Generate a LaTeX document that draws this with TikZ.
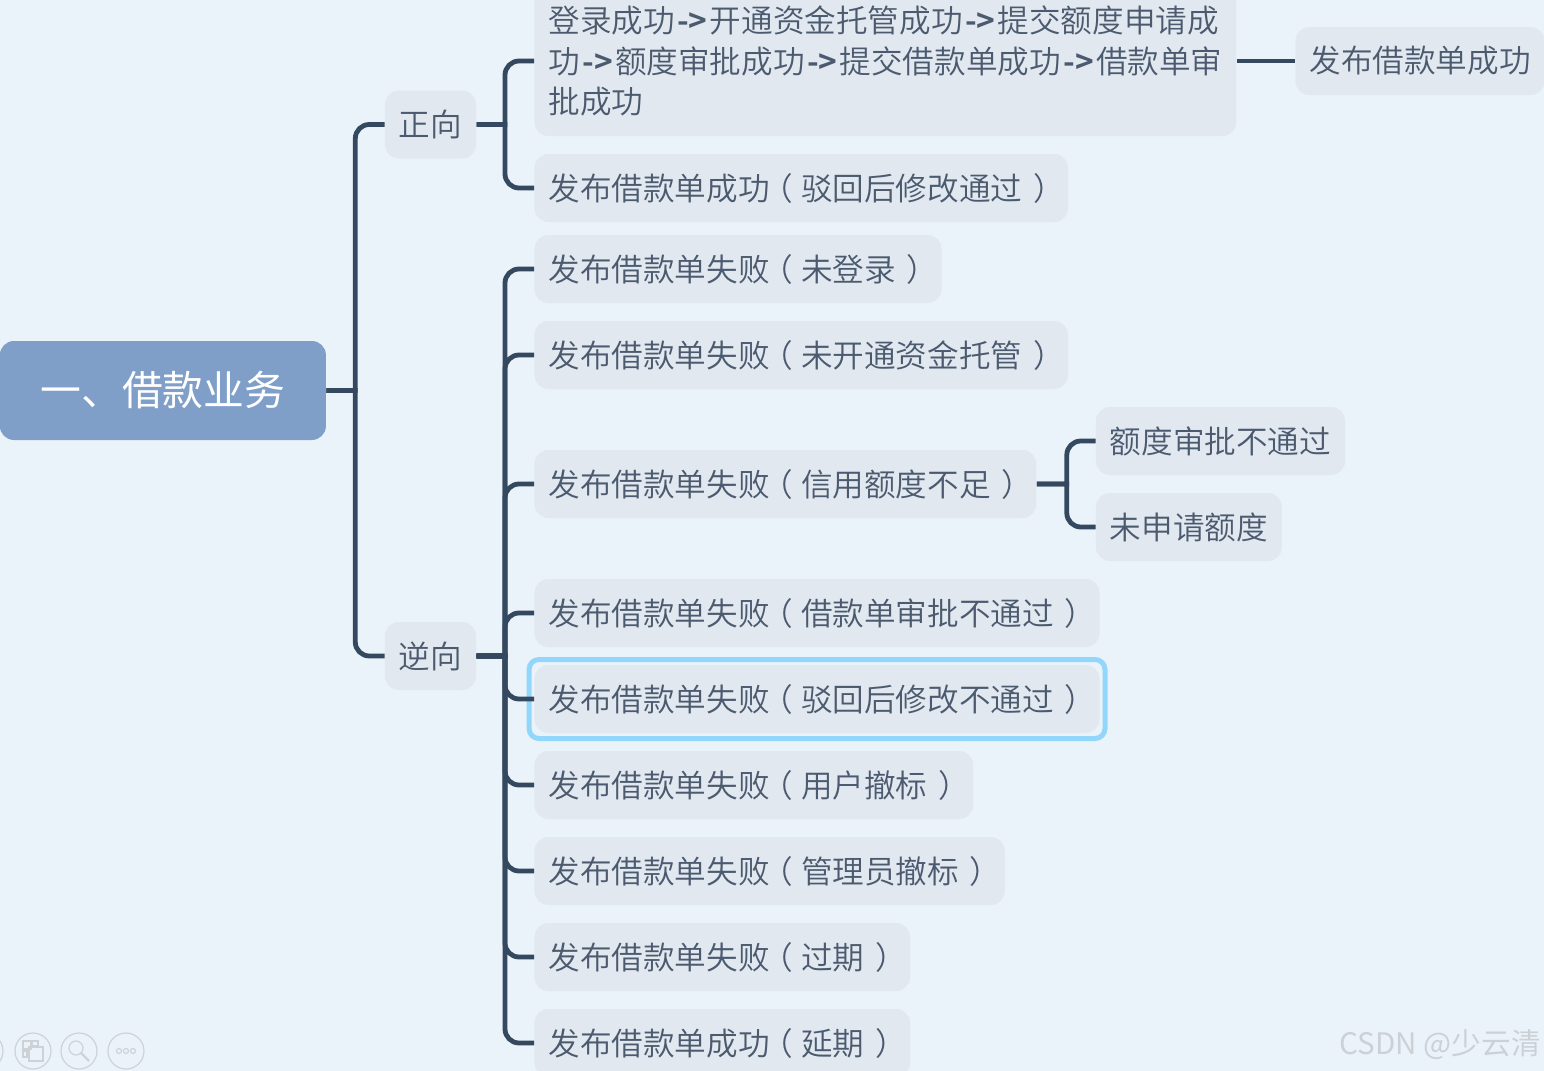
\documentclass[tikz,border=0pt]{standalone}
\usepackage{fontspec}
\setmainfont{Noto Sans CJK SC DemiLight}[BoldFont={Noto Sans CJK SC Bold}]
\newfontfamily\plainfont{Noto Sans CJK SC}
\definecolor{mapBg}{HTML}{EBF3FA}
\definecolor{mapRoot}{HTML}{7F9FC9}
\definecolor{mapBox}{HTML}{E1E8F0}
\definecolor{mapInk}{HTML}{4B5A6E}
\definecolor{mapLine}{HTML}{34495F}
\definecolor{mapMark}{HTML}{92D6FB}
\definecolor{mapIcon}{HTML}{CDD2D7}
\definecolor{mapWater}{HTML}{CCD1D6}
\newcommand{\flowto}{\kern.075em{\bfseries->}\kern.075em}
\newcommand{\openp}{\kern-.25em（\kern.25em}
\newcommand{\closep}{\kern.34em）\kern-.34em}
\tikzset{
    topic/.style={fill=mapBox,text=mapInk,rounded corners=7pt,anchor=west,align=left,
        inner xsep=7pt,inner ysep=0pt,minimum height=34pt,
        font=\fontsize{15.8}{20.25}\selectfont},
    rootbox/.style={fill=mapRoot,text=white,rounded corners=7pt,anchor=west,
        minimum width=163pt,minimum height=49.5pt,inner sep=0pt,
        font=\plainfont\fontsize{20.4}{24}\selectfont},
    link/.style={to path={-- ++(#1,0) [rounded corners=7pt] |- (\tikztotarget)}},
    linkline/.style={mapLine,line width=2.4pt},
    iconline/.style={mapIcon,line width=0.6pt}
}
\begin{document}
\begin{tikzpicture}[x=0.5pt,y=-0.5pt]
    \useasboundingbox[fill=mapBg] (0,0) rectangle (1544,1071);
    % central topic and the two main branches
    \node[rootbox] (root) at (-0.5,390.5) {\raisebox{2pt}{一、借款业务}};
    \node[topic] (forward) at (384.5,124.5) {正向};
    \node[topic] (reverse) at (384.5,656) {逆向};
    % forward branch
    \node[topic,minimum height=75pt] (flow) at (534,61) {登录成功\flowto 开通资金托管成功\flowto 提交额度申请成\\功\flowto 额度审批成功\flowto 提交借款单成功\flowto 借款单审\\批成功};
    \node[topic] (okpub) at (1295,61) {发布借款单成功};
    \node[topic] (okfix) at (534,188) {发布借款单成功\openp 驳回后修改通过\closep};
    % reverse branch
    \node[topic] (nologin) at (534,269) {发布借款单失败\openp 未登录\closep};
    \node[topic] (nofund) at (534,355) {发布借款单失败\openp 未开通资金托管\closep};
    \node[topic] (nocredit) at (534,484) {发布借款单失败\openp 信用额度不足\closep};
    \node[topic] (denied) at (1095.5,441) {额度审批不通过};
    \node[topic] (noapply) at (1095.5,527) {未申请额度};
    \node[topic] (rejected) at (534,613) {发布借款单失败\openp 借款单审批不通过\closep};
    % selection frame of the picked topic
    \node[draw=mapMark,line width=2.5pt,rounded corners=5pt,inner sep=0pt,minimum width=288pt,minimum height=39.5pt] (frame) at (817,699) {};
    \node[topic] (fixfail) at (534,699) {发布借款单失败\openp 驳回后修改不通过\closep};
    \node[topic] (usercancel) at (534,785) {发布借款单失败\openp 用户撤标\closep};
    \node[topic] (admincancel) at (534,871) {发布借款单失败\openp 管理员撤标\closep};
    \node[topic] (expired) at (534,957) {发布借款单失败\openp 过期\closep};
    \node[topic] (extended) at (534,1043) {发布借款单成功\openp 延期\closep};
    % connectors
    \draw[linkline] (root.east) to[link=29] (forward.west);
    \draw[linkline] (root.east) to[link=29] (reverse.west);
    \draw[linkline] (forward.east) to[link=28.5] (flow.west);
    \draw[linkline] (forward.east) to[link=28.5] (okfix.west);
    \draw[linkline] (flow.east) -- (okpub.west);
    \draw[linkline] (reverse.east) to[link=28.5] (nologin.west);
    \draw[linkline] (reverse.east) to[link=28.5] (nofund.west);
    \draw[linkline] (reverse.east) to[link=28.5] (nocredit.west);
    \draw[linkline] (reverse.east) to[link=28.5] (rejected.west);
    \draw[linkline] (reverse.east) to[link=28.5] (fixfail.west);
    \draw[linkline] (reverse.east) to[link=28.5] (usercancel.west);
    \draw[linkline] (reverse.east) to[link=28.5] (admincancel.west);
    \draw[linkline] (reverse.east) to[link=28.5] (expired.west);
    \draw[linkline] (reverse.east) to[link=28.5] (extended.west);
    \draw[linkline] (nocredit.east) to[link=30] (denied.west);
    \draw[linkline] (nocredit.east) to[link=30] (noapply.west);
    % viewer buttons
    \draw[iconline] (-15,1051) circle (18);
    \draw[iconline] (33,1051) circle (18);
    \draw[iconline] (79,1051) circle (18);
    \draw[iconline] (126,1051) circle (18);
    \draw[iconline] (23,1041) rectangle (31,1049);
    \draw[iconline] (32,1041) rectangle (38,1046);
    \draw[iconline] (23,1051) rectangle (27,1057);
    \draw[iconline,line width=1pt] (29,1047) rectangle (43,1061);
    \draw[iconline] (76,1048) circle (7);
    \draw[iconline,line width=1.2pt] (81,1053) -- (89,1061);
    \draw[iconline] (119,1051) circle (2.5);
    \draw[iconline] (126,1051) circle (2.5);
    \draw[iconline] (133,1051) circle (2.5);
    % watermark
    \node[text=mapWater,anchor=east,inner sep=0pt,font=\plainfont\fontsize{14.8}{18}\selectfont] (water) at (1541,1045) {CSDN @少云清};
\end{tikzpicture}
\end{document}
